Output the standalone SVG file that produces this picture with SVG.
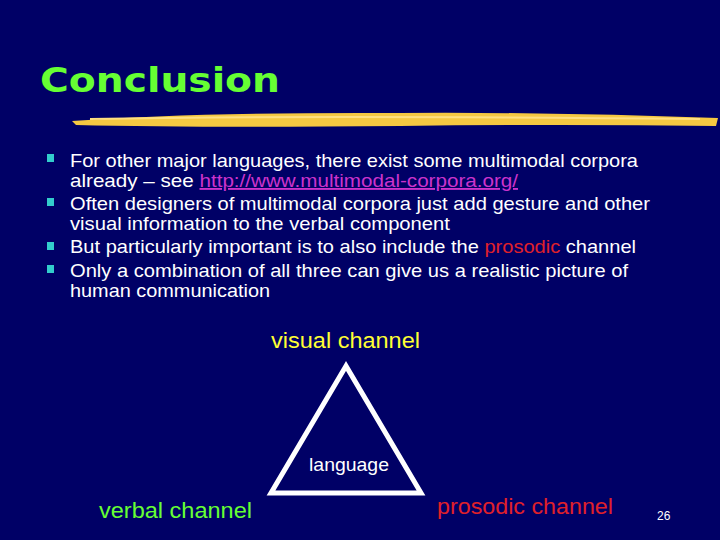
<svg xmlns="http://www.w3.org/2000/svg" width="720" height="540" viewBox="0 0 720 540">
<style>
.b{font-family:"Liberation Sans",Arial,sans-serif;font-size:18.5px;fill:#fff}
.sq{fill:#33cccc}
.c{font-family:"Liberation Sans",Arial,sans-serif;font-size:22.5px}
</style>
<rect width="720" height="540" fill="#000066"/>
<text x="40" y="92" font-family="DejaVu Sans,Arial,sans-serif" font-weight="bold" font-size="34" fill="#66ff33" textLength="240" lengthAdjust="spacingAndGlyphs">Conclusion</text>
<path d="M72 121 Q200 112 400 113 Q560 112 718 118 L716 126 Q560 124 400 126 Q200 128 76 125 Z" fill="#f5c842"/>
<path d="M90 119 Q300 115 700 119" stroke="#ffe080" stroke-width="2" fill="none"/>
<g id="bullets">
<rect class="sq" x="47" y="154" width="7" height="8"/>
<rect class="sq" x="47" y="198" width="7" height="8"/>
<rect class="sq" x="47" y="242" width="7" height="8"/>
<rect class="sq" x="47" y="265" width="7" height="8"/>
<text class="b" x="70" y="167" textLength="568" lengthAdjust="spacingAndGlyphs">For other major languages, there exist some multimodal corpora</text>
<text class="b" x="70" y="187" textLength="448" lengthAdjust="spacingAndGlyphs">already – see <tspan fill="#cc33cc" text-decoration="underline">http://www.multimodal-corpora.org/</tspan></text>
<text class="b" x="70" y="210" textLength="580" lengthAdjust="spacingAndGlyphs">Often designers of multimodal corpora just add gesture and other</text>
<text class="b" x="70" y="230" textLength="380" lengthAdjust="spacingAndGlyphs">visual information to the verbal component</text>
<text class="b" x="70" y="253" textLength="566" lengthAdjust="spacingAndGlyphs">But particularly important is to also include the <tspan fill="#e0202a">prosodic</tspan> channel</text>
<text class="b" x="70" y="277" textLength="558" lengthAdjust="spacingAndGlyphs">Only a combination of all three can give us a realistic picture of</text>
<text class="b" x="70" y="297" textLength="200" lengthAdjust="spacingAndGlyphs">human communication</text>
</g>
<g id="triangle"><polygon points="346,366 271,493 421,493" fill="none" stroke="#fff" stroke-width="5" stroke-linejoin="miter"/></g>
<g id="visual"><text class="c" x="271" y="348" fill="#ffff33" textLength="149" lengthAdjust="spacingAndGlyphs">visual channel</text></g>
<g id="language"><text x="309" y="471" font-family="Liberation Sans,Arial,sans-serif" font-size="19" fill="#fff" textLength="80" lengthAdjust="spacingAndGlyphs">language</text></g>
<g id="verbal"><text class="c" x="99" y="518" fill="#66ff33" textLength="153" lengthAdjust="spacingAndGlyphs">verbal channel</text></g>
<g id="prosodic"><text class="c" x="437" y="514" fill="#e0202a" textLength="176" lengthAdjust="spacingAndGlyphs">prosodic channel</text></g>
<text x="657" y="520" font-family="Liberation Sans,Arial,sans-serif" font-size="12" fill="#fff">26</text>
</svg>
